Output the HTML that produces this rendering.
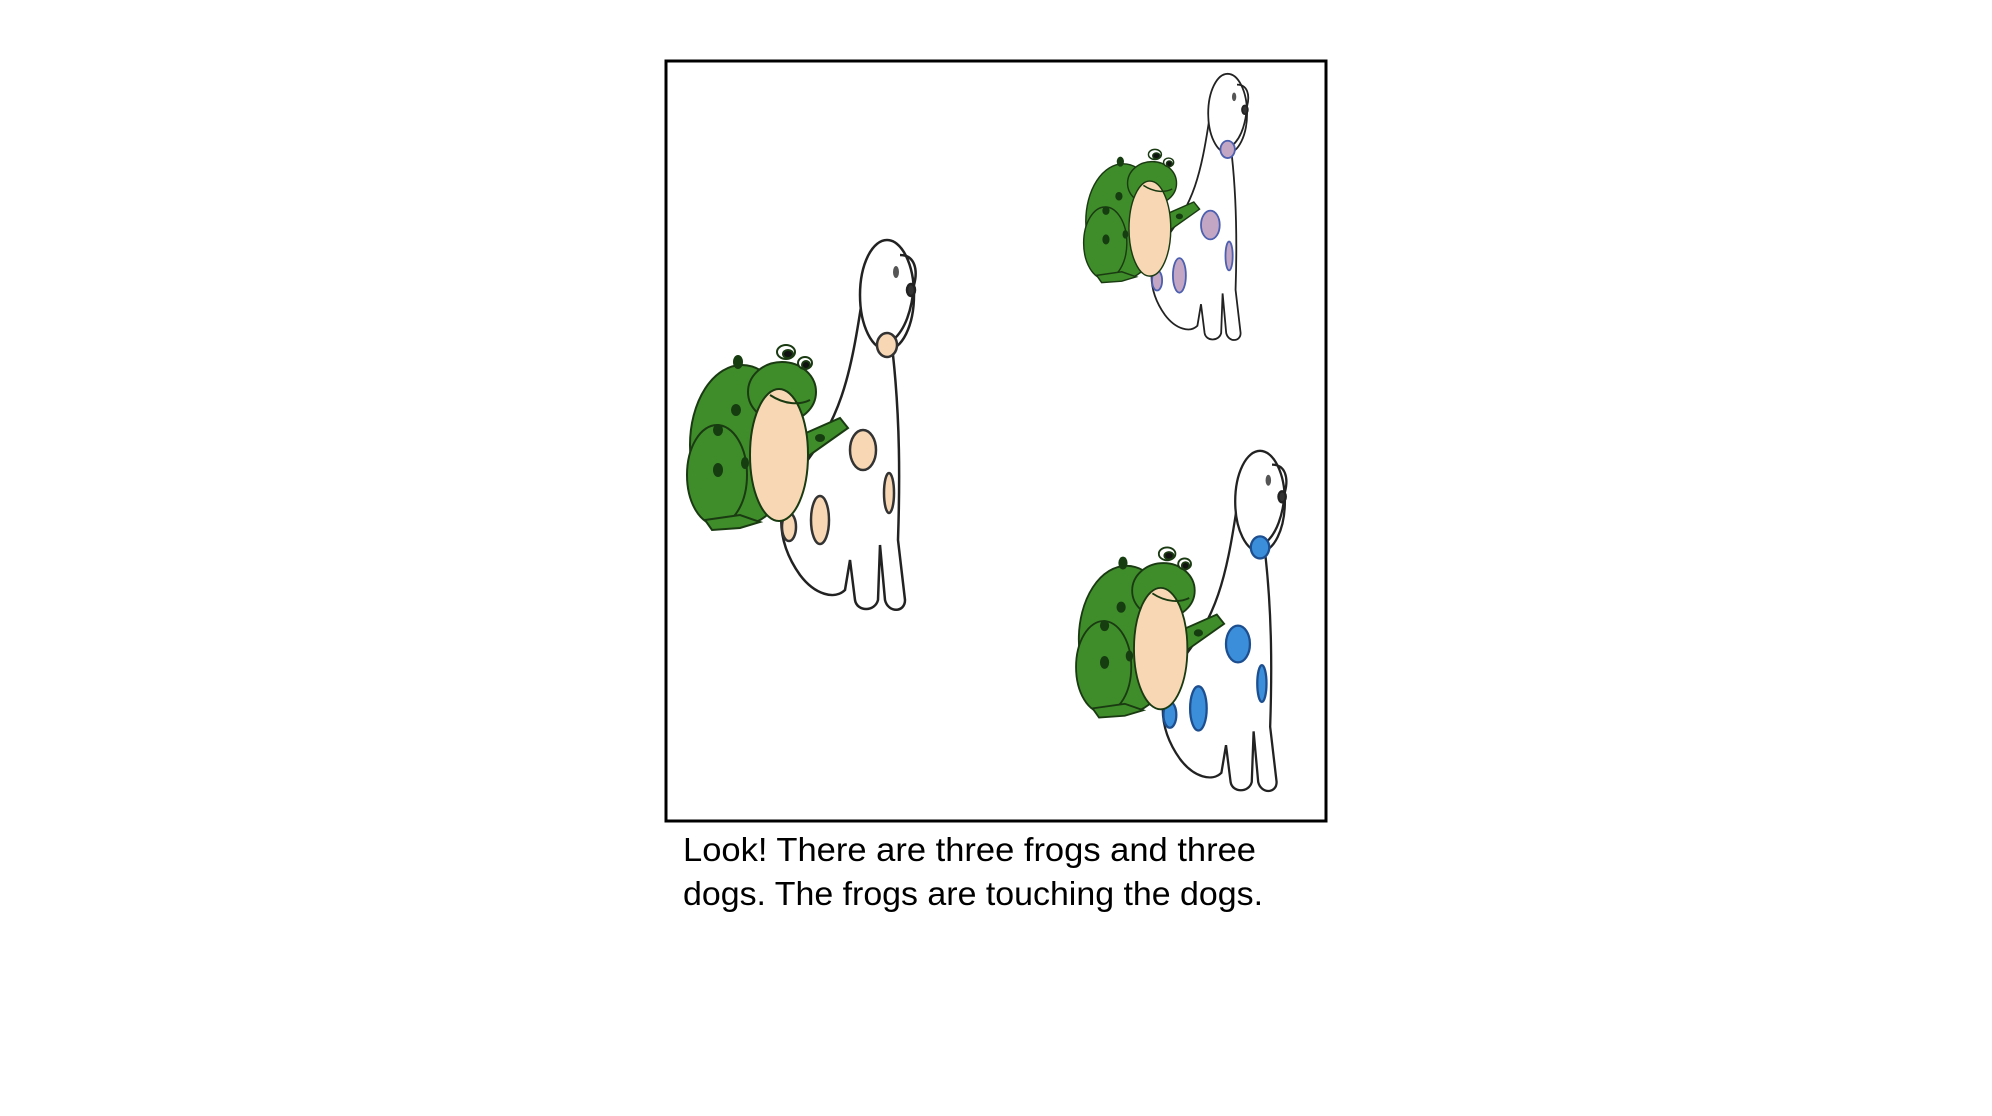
<!DOCTYPE html>
<html><head><meta charset="utf-8"><style>
html,body{margin:0;padding:0;background:#fff;width:1992px;height:1116px;overflow:hidden}
svg{display:block}
</style></head><body>
<svg width="1992" height="1116" viewBox="0 0 1992 1116">
<defs>
<g id="pair">
  <g stroke="#222" stroke-width="2.5" fill="#fff">
    <path d="M862,300 C850,380 840,420 800,470 C775,500 775,540 800,575 C815,595 835,600 845,590 L850,560 L855,600 C857,612 875,612 878,600 L880,545 L885,600 C888,613 905,613 905,600 L898,540 C900,480 900,420 893,355 Z"/>
    <ellipse cx="887" cy="295" rx="27" ry="55"/>
    <path d="M900,255 C915,255 918,270 914,285 C912,310 905,330 893,340" fill="none"/>
    <ellipse cx="911" cy="290" rx="4" ry="6" fill="#333"/>
    <ellipse cx="896" cy="272" rx="3" ry="6" fill="#555" stroke="none"/>
    <g style="fill:var(--spot);stroke:var(--spotStroke)">
      <ellipse cx="887" cy="345" rx="10" ry="12"/>
      <ellipse cx="863" cy="450" rx="13" ry="20"/>
      <ellipse cx="820" cy="520" rx="9" ry="24"/>
      <ellipse cx="789" cy="527" rx="7" ry="14"/>
      <ellipse cx="889" cy="493" rx="5" ry="20"/>
    </g>
  </g>
  <g stroke="#1a3a12" stroke-width="2">
    <ellipse cx="742" cy="445" rx="52" ry="80" fill="#3f8d2a"/>
    <ellipse cx="717" cy="475" rx="30" ry="50" fill="#3f8d2a"/>
    <path d="M790,440 L840,418 L848,428 L800,462 Z" fill="#3f8d2a"/>
    <path d="M705,520 L740,515 L760,522 L740,528 L712,530 Z" fill="#3f8d2a"/>
    <ellipse cx="782" cy="392" rx="34" ry="30" fill="#3f8d2a"/>
    <ellipse cx="779" cy="455" rx="29" ry="66" fill="#f8d8b4"/>
    <path d="M770,395 C785,405 800,405 810,400" fill="none"/>
    <ellipse cx="786" cy="352" rx="9" ry="7" fill="#fff"/>
    <ellipse cx="788" cy="354" rx="5" ry="4" fill="#111"/>
    <ellipse cx="805" cy="363" rx="7" ry="6" fill="#fff"/>
    <ellipse cx="806" cy="365" rx="4" ry="4" fill="#111"/>
    <g fill="#163d10" stroke="none">
      <ellipse cx="738" cy="362" rx="5" ry="7"/><ellipse cx="736" cy="410" rx="5" ry="6"/>
      <ellipse cx="718" cy="430" rx="5" ry="6"/><ellipse cx="718" cy="470" rx="5" ry="7"/>
      <ellipse cx="745" cy="463" rx="4" ry="6"/><ellipse cx="820" cy="438" rx="5" ry="4"/>
    </g>
  </g>
</g>
</defs>
<rect x="666" y="61" width="660" height="760" fill="#fff" stroke="#000" stroke-width="3"/>
<g style="--spot:#f8d8b4;--spotStroke:#333"><use href="#pair"/></g>
<g style="--spot:#c2a6c4;--spotStroke:#4c5fb0" transform="translate(589,-99) scale(0.72)"><use href="#pair"/></g>
<g style="--spot:#3b8fda;--spotStroke:#1d4f90" transform="translate(444,230) scale(0.92)"><use href="#pair"/></g>
<text x="683" y="861" font-family="Liberation Sans, sans-serif" font-size="33" textLength="573" lengthAdjust="spacingAndGlyphs">Look! There are three frogs and three</text>
<text x="683" y="905" font-family="Liberation Sans, sans-serif" font-size="33" textLength="580" lengthAdjust="spacingAndGlyphs">dogs. The frogs are touching the dogs.</text>
</svg>
</body></html>
